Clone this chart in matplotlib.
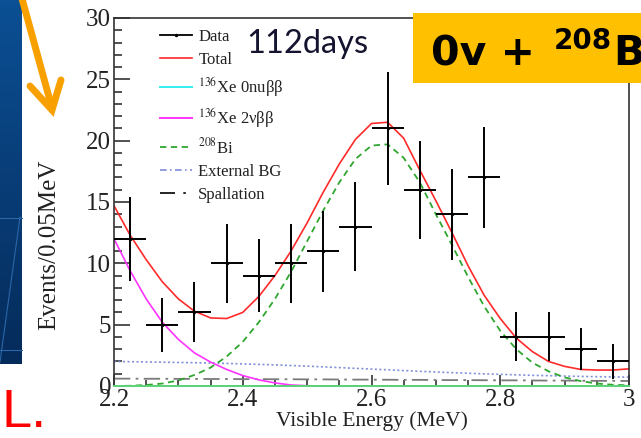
import numpy as np
import matplotlib
matplotlib.use("Agg")
import matplotlib.pyplot as plt
from matplotlib.lines import Line2D
from matplotlib.patches import Rectangle
from matplotlib.colors import LinearSegmentedColormap

plt.rcParams['font.family'] = ['Liberation Serif', 'DejaVu Serif']
plt.rcParams['mathtext.fontset'] = 'stix'

# measured spectrum, 0.05 MeV bins
bin_centers = [2.225, 2.275, 2.325, 2.375, 2.425, 2.475, 2.525, 2.575,
               2.625, 2.675, 2.725, 2.775, 2.825, 2.875, 2.925, 2.975]
counts = [12, 5, 6, 10, 9, 10, 11, 13, 21, 16, 14, 17, 4, 4, 3, 2]
count_err = [3.4, 2.2, 2.45, 3.2, 3.0, 3.2, 3.3, 3.6,
             4.6, 4.0, 3.7, 4.1, 2.0, 2.0, 1.7, 1.4]
bin_half = 0.025

# fit components sampled every 0.025 MeV from 2.2 to 3.0
model_energy = np.linspace(2.2, 3.0, 33)
total = [14.7, 12.3, 10.3, 8.5, 7.1, 6.1, 5.55, 5.5, 6.0, 7.3, 9.0, 11.0,
         13.3, 15.8, 18.1, 20.1, 21.4, 21.5, 20.2, 17.6, 15.1, 12.5, 9.8,
         7.4, 5.5, 3.9, 2.8, 2.0, 1.6, 1.35, 1.3, 1.3, 1.4]
xe_0nu = [0.0] * 33
xe_2nu = [12.0, 9.4, 7.1, 5.2, 3.8, 2.7, 1.95, 1.35, 0.85, 0.5, 0.25, 0.08,
          0.02, 0.0, 0.0, 0.0, 0.0, 0.0, 0.0, 0.0, 0.0, 0.0, 0.0, 0.0, 0.0,
          0.0, 0.0, 0.0, 0.0, 0.0, 0.0, 0.0, 0.0]
bi208 = [0.0, 0.02, 0.08, 0.2, 0.45, 0.9, 1.5, 2.4, 3.6, 5.2, 7.1, 9.3,
         11.8, 14.3, 16.6, 18.5, 19.6, 19.7, 18.6, 16.6, 14.0, 11.5, 8.9,
         6.5, 4.5, 3.0, 1.9, 1.2, 0.7, 0.4, 0.2, 0.1, 0.05]
external_bg = [2.0, 1.98, 1.96, 1.94, 1.92, 1.9, 1.87, 1.84, 1.8, 1.76,
               1.72, 1.67, 1.62, 1.56, 1.5, 1.44, 1.38, 1.32, 1.26, 1.2,
               1.14, 1.09, 1.04, 0.99, 0.95, 0.91, 0.87, 0.84, 0.81, 0.78,
               0.76, 0.74, 0.72]
spallation = [0.6, 0.6, 0.59, 0.59, 0.58, 0.58, 0.57, 0.57, 0.56, 0.56,
              0.55, 0.55, 0.54, 0.54, 0.53, 0.52, 0.52, 0.51, 0.5, 0.5,
              0.49, 0.48, 0.48, 0.47, 0.46, 0.46, 0.45, 0.44, 0.44, 0.43,
              0.42, 0.42, 0.41]

W, H = 641, 438
fig = plt.figure(figsize=(W / 100, H / 100), dpi=100)
ax = fig.add_axes([114 / W, 1 - 386 / H, (629 - 114) / W, (386 - 18) / H])

ax.plot(model_energy, external_bg, color='#7f8fd8', lw=1.2, ls=(0, (1.2, 1.5)))
ax.plot(model_energy, spallation, color='#7a7a7a', lw=1.3,
        ls=(0, (9, 3, 1.5, 3)))
ax.plot(model_energy, xe_2nu, color='#ff33ff', lw=1.2)
ax.plot(model_energy, bi208, color='#2fa62f', lw=1.3, ls=(0, (3.5, 2.5)))
ax.plot(model_energy, total, color='#ff2a2a', lw=1.2)
ax.plot(model_energy, xe_0nu, color='#5fd67a', lw=1.4, clip_on=False,
        zorder=4)
ax.errorbar(bin_centers, counts, xerr=bin_half, yerr=count_err, fmt='.',
            color='black', ms=3, elinewidth=1.4, capsize=0, zorder=5)

ax.set_xlim(2.2, 3.0)
ax.set_ylim(0, 30)
ax.set_xticks([2.2, 2.4, 2.6, 2.8, 3.0])
ax.set_xticklabels(['2.2', '2.4', '2.6', '2.8', '3'])
ax.set_xticks(np.arange(2.25, 3.0, 0.05), minor=True)
ax.set_yticks([0, 5, 10, 15, 20, 25, 30])
ax.set_yticks(range(0, 31), minor=True)
ax.tick_params(axis='both', which='both', direction='in', width=1.1,
               color='#222222', labelsize=18, labelcolor='#222222')
ax.tick_params(axis='y', which='major', length=11.5, pad=2)
ax.tick_params(axis='y', which='minor', length=6)
ax.tick_params(axis='x', which='major', length=8, pad=2.5)
ax.tick_params(axis='x', which='minor', length=4)
for side in ['top', 'right', 'left', 'bottom']:
    ax.spines[side].set_linewidth(1.2)
    ax.spines[side].set_color('#333333')

ax.set_xlabel('Visible Energy (MeV)', fontsize=15.5, color='#222222')
ax.xaxis.set_label_coords(0.5, -0.07)
ax.set_ylabel('Events/0.05MeV', fontsize=18, color='#222222')
ax.yaxis.set_label_coords(-0.105, 0.383)

handles = [
    Line2D([], [], color='black', lw=1.3, marker='.', ms=3),
    Line2D([], [], color='#ff2a2a', lw=1.2),
    Line2D([], [], color='#33eeee', lw=1.4),
    Line2D([], [], color='#ff33ff', lw=1.4),
    Line2D([], [], color='#2fa62f', lw=1.3, ls=(0, (3.5, 2.5))),
    Line2D([], [], color='#7f8fd8', lw=1.2, ls=(0, (4, 2, 1, 2))),
    Line2D([], [], color='black', lw=1.2, ls=(0, (9, 5, 1.5, 5))),
]
labels = ['Data', 'Total', r'$^{136}$Xe 0nuββ', r'$^{136}$Xe 2νββ',
          r'$^{208}$Bi', 'External BG', 'Spallation']
ax.legend(handles, labels, loc='upper left', frameon=False, fontsize=12,
          bbox_to_anchor=(160 / W, 1 - 29 / H), bbox_transform=fig.transFigure,
          borderpad=0, borderaxespad=0, handlelength=1.9, handletextpad=0.4,
          labelspacing=0.42, labelcolor='#222222')

# slide decorations, drawn in pixel coordinates
ov = fig.add_axes([0, 0, 1, 1], zorder=10)
ov.set_xlim(0, W)
ov.set_ylim(H, 0)
ov.axis('off')

ov.text(246, 53, '112days', family='Lato', fontsize=23.5, color='#141430')

panel_cmap = LinearSegmentedColormap.from_list('panel', ['#0b4f94', '#052b5a'])
ov.imshow(np.linspace(0, 1, 100).reshape(-1, 1), cmap=panel_cmap,
          extent=[0, 22, 364, 0], aspect='auto', zorder=1)
ov.plot([0, 22], [218, 218], color='#2a66a8', lw=0.8, zorder=2)
ov.plot([0, 22], [350, 350], color='#2a66a8', lw=0.8, zorder=2)
ov.plot([20, 0], [217, 362], color='#2a66a8', lw=0.8, zorder=2)
ov.set_xlim(0, W)
ov.set_ylim(H, 0)

arrow_color = '#f7a000'
ov.plot([21, 52], [-5, 108], color=arrow_color, lw=5, solid_capstyle='round',
        zorder=3)
ov.plot([30, 52, 61], [86, 110, 80], color=arrow_color, lw=5,
        solid_capstyle='round', solid_joinstyle='miter', zorder=3)

ov.text(1, 427, 'L.', family='Liberation Sans', fontsize=39, color='#ff0000')

ov.add_patch(Rectangle((413, 13), 240, 70, facecolor='#ffc000',
                       edgecolor='none', zorder=4))
ov.text(431, 65, '0v + ', family='DejaVu Sans', weight='bold', fontsize=29.5,
        color='black', zorder=5)
ov.text(554, 49, '208', family='DejaVu Sans', weight='bold', fontsize=20,
        color='black', zorder=5)
ov.text(613, 65, 'B', family='DejaVu Sans', weight='bold', fontsize=29.5,
        color='black', zorder=5)

fig.savefig('out.png', dpi=100)
